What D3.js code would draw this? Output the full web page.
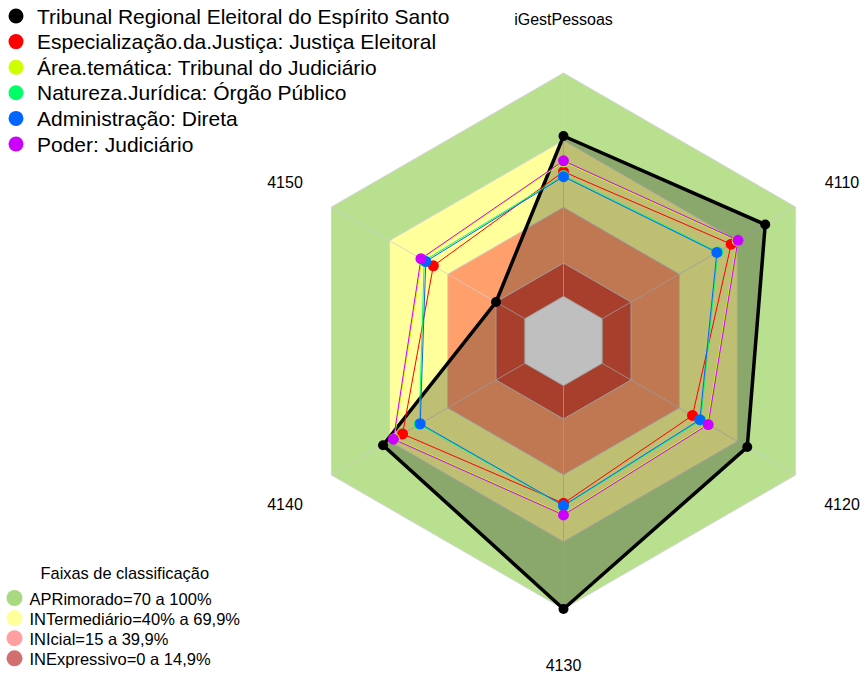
<!DOCTYPE html>
<html>
<head>
<meta charset="utf-8">
<script src="https://cdn.jsdelivr.net/npm/d3@7"></script>
<style>
  body { margin: 0; background: #fff; }
  svg { display: block; font-family: "Liberation Sans", Arial, sans-serif; }
</style>
</head>
<body>
<svg id="chart" width="865" height="673"></svg>
<script>
// ---- data ----
const axes = ["iGestPessoas", "4110", "4120", "4130", "4140", "4150"];
const seriesNames = [
  "Tribunal Regional Eleitoral do Espírito Santo",
  "Especialização.da.Justiça: Justiça Eleitoral",
  "Área.temática: Tribunal do Judiciário",
  "Natureza.Jurídica: Órgão Público",
  "Administração: Direta",
  "Poder: Judiciário"
];
const seriesColors = ["#000000", "#ff0000", "#ccff00", "#00ff66", "#0066ff", "#cc00ff"];
const tribunal      = [0.718, 0.843, 0.750, 1.000, 0.733, 0.149];
const especializacao = [0.558, 0.667, 0.467, 0.527, 0.632, 0.473];
const areaTematica  = [0.602, 0.698, 0.544, 0.575, 0.675, 0.532];
const natureza      = [0.541, 0.598, 0.510, 0.540, 0.546, 0.520];
const administracao = [0.536, 0.593, 0.505, 0.537, 0.541, 0.512];
const poder         = [0.607, 0.702, 0.548, 0.579, 0.679, 0.537];
const seriesValues = [tribunal, especializacao, areaTematica, natureza, administracao, poder];

const bandNames = ["APRimorado=70 a 100%", "INTermediário=40% a 69,9%", "INIcial=15 a 39,9%", "INExpressivo=0 a 14,9%"];
const bandUpper = [1.0, 0.699, 0.399, 0.149];
const bandFill = ["#b9e08f", "#ffff9b", "#ffa06c", "#e0553c"];
const bandLegendColors = ["#a8d880", "#ffff9c", "#ff9f9f", "#d27070"];
const legendTitle = "Faixas de classificação";

// ---- layout ----
const svg = d3.select("#chart");
const cx = 563.5, cy = 341, R = 268;
const seg = 5;
// fmsb-style radial scale: value 0 sits at 1/(seg+1) of radius
const rScale = d3.scaleLinear().domain([0, 1]).range([R / (seg + 1), R]);
const angle = d3.scaleLinear().domain([0, axes.length]).range([0, 2 * Math.PI]);

function pt(i, v) {
  const a = angle(i);
  const r = rScale(v);
  return [cx + r * Math.sin(a), cy - r * Math.cos(a)];
}
function hexAt(v) { return axes.map((_, i) => pt(i, v)); }
const line = d3.line().curve(d3.curveLinearClosed);

const g = svg.append("g");

// bands
bandUpper.forEach((u, k) => {
  g.append("path").attr("d", line(hexAt(u)))
    .attr("fill", bandFill[k]).attr("stroke", "#d4d4d4").attr("stroke-width", 1);
});
// hole
g.append("path").attr("d", line(hexAt(0))).attr("fill", "#ffffff")
  .attr("stroke", "#d4d4d4").attr("stroke-width", 1);

// spokes
axes.forEach((_, i) => {
  const p0 = pt(i, 0), p1 = pt(i, 1);
  g.append("line").attr("x1", p0[0]).attr("y1", p0[1]).attr("x2", p1[0]).attr("y2", p1[1])
    .attr("stroke", "#d0d0d0").attr("stroke-opacity", 0.8).attr("stroke-width", 1);
});

// axis labels
axes.forEach((name, i) => {
  const a = angle(i);
  const r = R * 1.2;
  g.append("text").attr("x", cx + r * Math.sin(a)).attr("y", cy - r * Math.cos(a) + (i === 0 ? 0 : 2.5))
    .attr("text-anchor", "middle").attr("dominant-baseline", "central")
    .attr("font-size", 16).attr("fill", "#000").text(name);
});

// series
seriesValues.forEach((vals, s) => {
  const pts = vals.map((v, i) => pt(i, v));
  const isMain = s === 0;
  g.append("path").attr("d", line(pts))
    .attr("fill", isMain ? "rgba(0,0,0,0.25)" : "none")
    .attr("stroke", seriesColors[s])
    .attr("stroke-width", isMain ? 3.5 : 1)
    .attr("stroke-linejoin", "miter");
});
seriesValues.forEach((vals, s) => {
  const pts = vals.map((v, i) => pt(i, v));
  g.selectAll(null).data(pts).enter().append("circle")
    .attr("cx", d => d[0]).attr("cy", d => d[1])
    .attr("r", s === 0 ? 5 : 5.5)
    .attr("fill", seriesColors[s]);
});

// top legend
const lg = svg.append("g");
seriesNames.forEach((name, k) => {
  const y = 16 + k * 25.6;
  lg.append("circle").attr("cx", 16).attr("cy", y).attr("r", 7.5).attr("fill", seriesColors[k]);
  lg.append("text").attr("x", 37).attr("y", y).attr("dominant-baseline", "central")
    .attr("font-size", 21).attr("fill", "#000").text(name);
});

// bottom legend
const bl = svg.append("g");
bl.append("text").attr("x", 40.5).attr("y", 573).attr("dominant-baseline", "central")
  .attr("font-size", 16.4).attr("fill", "#000").text(legendTitle);
bandNames.forEach((name, k) => {
  const y = 598 + k * 20.1;
  bl.append("circle").attr("cx", 14.5).attr("cy", y).attr("r", 8).attr("fill", bandLegendColors[k]);
  bl.append("text").attr("x", 29.5).attr("y", y + 0.5).attr("dominant-baseline", "central")
    .attr("font-size", 16.5).attr("fill", "#000").text(name);
});
</script>
</body>
</html>
